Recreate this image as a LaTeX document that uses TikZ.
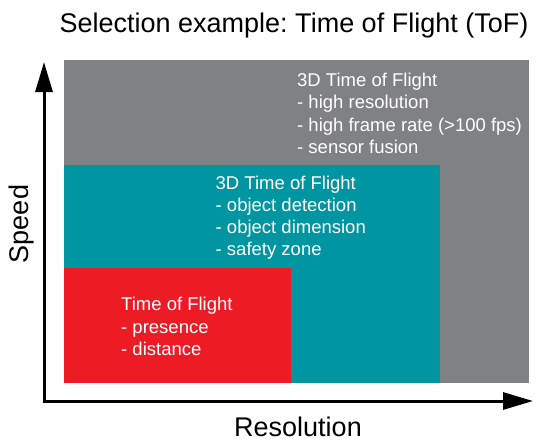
\documentclass[tikz,border=0pt]{standalone}
\usepackage{fontspec}
\setmainfont{Liberation Sans}
\usetikzlibrary{arrows.meta}
\definecolor{tofgray}{RGB}{128,129,132}
\definecolor{tofteal}{RGB}{0,150,161}
\definecolor{tofred}{RGB}{237,28,36}
\frenchspacing

\begin{document}
\begin{tikzpicture}[
    x=1pt, y=-1pt,
    zone/.style={align=left, anchor=base west, inner sep=0pt, text=white, font=\fontsize{18.5}{22.3}\selectfont},
    axislabel/.style={inner sep=0pt, anchor=base, font=\fontsize{27}{32}\selectfont},
    axisline/.style={{Triangle[length=30pt,width=17pt]}-{Triangle[length=30pt,width=17pt]}, line width=3pt},
  ]
    \useasboundingbox (0,0) rectangle (545,444);
    % coloured zones (text anchored at last baseline)
    \fill[tofgray] (64,60) rectangle (529,383);
    \fill[tofteal] (64,165) rectangle (440,383);
    \fill[tofred] (64,268) rectangle (291,383);
    \node[zone] (zone3d) at (297,153.4) {3D Time of Flight\\- high resolution\\- high frame rate (>100 fps)\\- sensor fusion};
    \node[zone] (zoneobj) at (215.5,255.9) {3D Time of Flight\\- object detection\\- object dimension\\- safety zone};
    \node[zone] (zonetof) at (121,355.3) {Time of Flight\\- presence\\- distance};

    % axes
    \coordinate (ytip) at (44,62);
    \coordinate (corner) at (44,401);
    \coordinate (xtip) at (533,401);
    \draw[axisline] (ytip) -- (corner) -- (xtip);
    \node[axislabel] (title) at (294,33) {Selection example: Time of Flight (ToF)};
    \node[axislabel] (xlabel) at (298,436.7) {Resolution};
    \node[axislabel, rotate=90] (ylabel) at (28,224) {Speed};
  \end{tikzpicture}
\end{document}
